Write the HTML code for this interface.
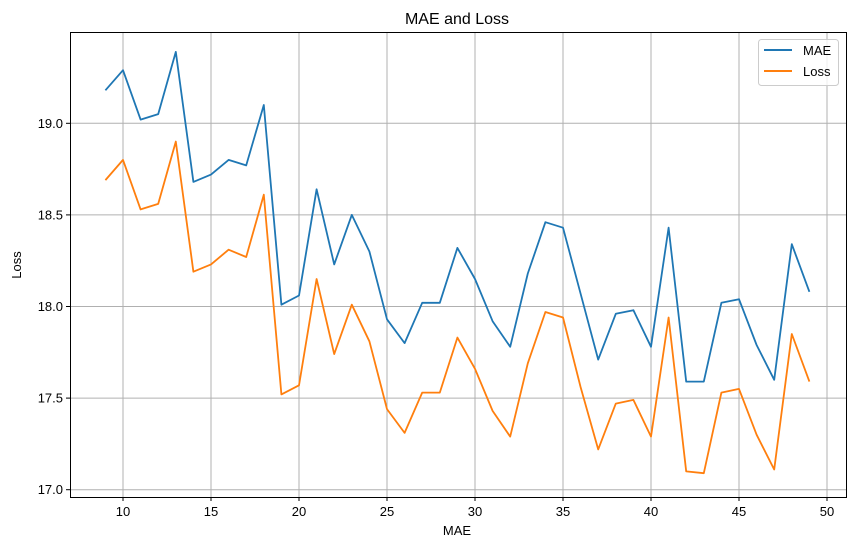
<!DOCTYPE html>
<html><head><meta charset="utf-8"><style>
body{margin:0;background:#fff;}
svg text{font-family:"Liberation Sans","DejaVu Sans",sans-serif;fill:#000;}
</style></head><body>
<svg id="chart" width="855" height="547" xmlns="http://www.w3.org/2000/svg">
<rect x="0" y="0" width="855" height="547" fill="#fff"/>
<g id="grid"></g>
<g id="series"></g>
<rect x="70.5" y="32.5" width="776" height="465" fill="none" stroke="#000" stroke-width="1"/>
<g id="axes"></g>
<text x="457" y="24" font-size="16" text-anchor="middle">MAE and Loss</text>
<text x="457" y="535" font-size="13" text-anchor="middle">MAE</text>
<text x="21" y="265" font-size="13" text-anchor="middle" transform="rotate(-90 21 265)">Loss</text>
<g>
<rect x="758.5" y="39.5" width="80" height="46" rx="3" fill="#fff" fill-opacity="0.8" stroke="#ccc"/>
<line x1="764" y1="50" x2="792" y2="50" stroke="#1f77b4" stroke-width="2"/>
<text x="803" y="55" font-size="13">MAE</text>
<line x1="764" y1="71" x2="792" y2="71" stroke="#ff7f0e" stroke-width="2"/>
<text x="803" y="76" font-size="13">Loss</text>
</g>
</svg>
<script>
const epochs = [9,10,11,12,13,14,15,16,17,18,19,20,21,22,23,24,25,26,27,28,29,30,31,32,33,34,35,36,37,38,39,40,41,42,43,44,45,46,47,48,49];
const maeValues = [19.18,19.29,19.02,19.05,19.39,18.68,18.72,18.80,18.77,19.10,18.01,18.06,18.64,18.23,18.50,18.30,17.93,17.80,18.02,18.02,18.32,18.15,17.92,17.78,18.18,18.46,18.43,18.07,17.71,17.96,17.98,17.78,18.43,17.59,17.59,18.02,18.04,17.79,17.60,18.34,18.08];
const lossValues = [18.69,18.80,18.53,18.56,18.90,18.19,18.23,18.31,18.27,18.61,17.52,17.57,18.15,17.74,18.01,17.81,17.44,17.31,17.53,17.53,17.83,17.66,17.43,17.29,17.69,17.97,17.94,17.56,17.22,17.47,17.49,17.29,17.94,17.10,17.09,17.53,17.55,17.30,17.11,17.85,17.59];
const xTicks = [10,15,20,25,30,35,40,45,50];
const yTicks = [17.0,17.5,18.0,18.5,19.0];
const yTickLabels = ["17.0","17.5","18.0","18.5","19.0"];

const NS="http://www.w3.org/2000/svg";
function xs(v){return 123 + (v-10)*17.6;}
function ys(v){return 123.3 + (19-v)*183.2;}
const grid=document.getElementById('grid'), axes=document.getElementById('axes'), series=document.getElementById('series');
function mk(tag,attrs,parent){const e=document.createElementNS(NS,tag);for(const k in attrs)e.setAttribute(k,attrs[k]);parent.appendChild(e);return e;}
xTicks.forEach(t=>{
  const x=xs(t);
  const g=mk('line',{x1:x,x2:x,y1:32,y2:497,stroke:'#b0b0b0','stroke-width':1},grid);
  
  
  const tk=mk('line',{x1:x,x2:x,y1:497,y2:501,stroke:'#000'},axes);
  
  
  const tx=mk('text',{x:x,y:516,'font-size':13,'text-anchor':'middle'},axes);
  tx.textContent=String(t);
  
  
});
yTicks.forEach((t,i)=>{
  const y=ys(t);
  const g=mk('line',{x1:70,x2:846,y1:y,y2:y,stroke:'#b0b0b0','stroke-width':1},grid);
  
  
  const tk=mk('line',{x1:66,x2:70,y1:y,y2:y,stroke:'#000'},axes);
  
  
  const tx=mk('text',{x:63,y:y+4.5,'font-size':13,'text-anchor':'end'},axes);
  tx.textContent=yTickLabels[i];
  
  
});
function line(vals,color,name){
  const pts=vals.map((v,i)=>xs(epochs[i]).toFixed(1)+','+ys(v).toFixed(1)).join(' ');
  const p=mk('polyline',{points:pts,fill:'none',stroke:color,'stroke-width':1.8,'stroke-linejoin':'round'},series);
  
  
}
line(maeValues,'#1f77b4','mae-line');
line(lossValues,'#ff7f0e','loss-line');
</script>
</body></html>
